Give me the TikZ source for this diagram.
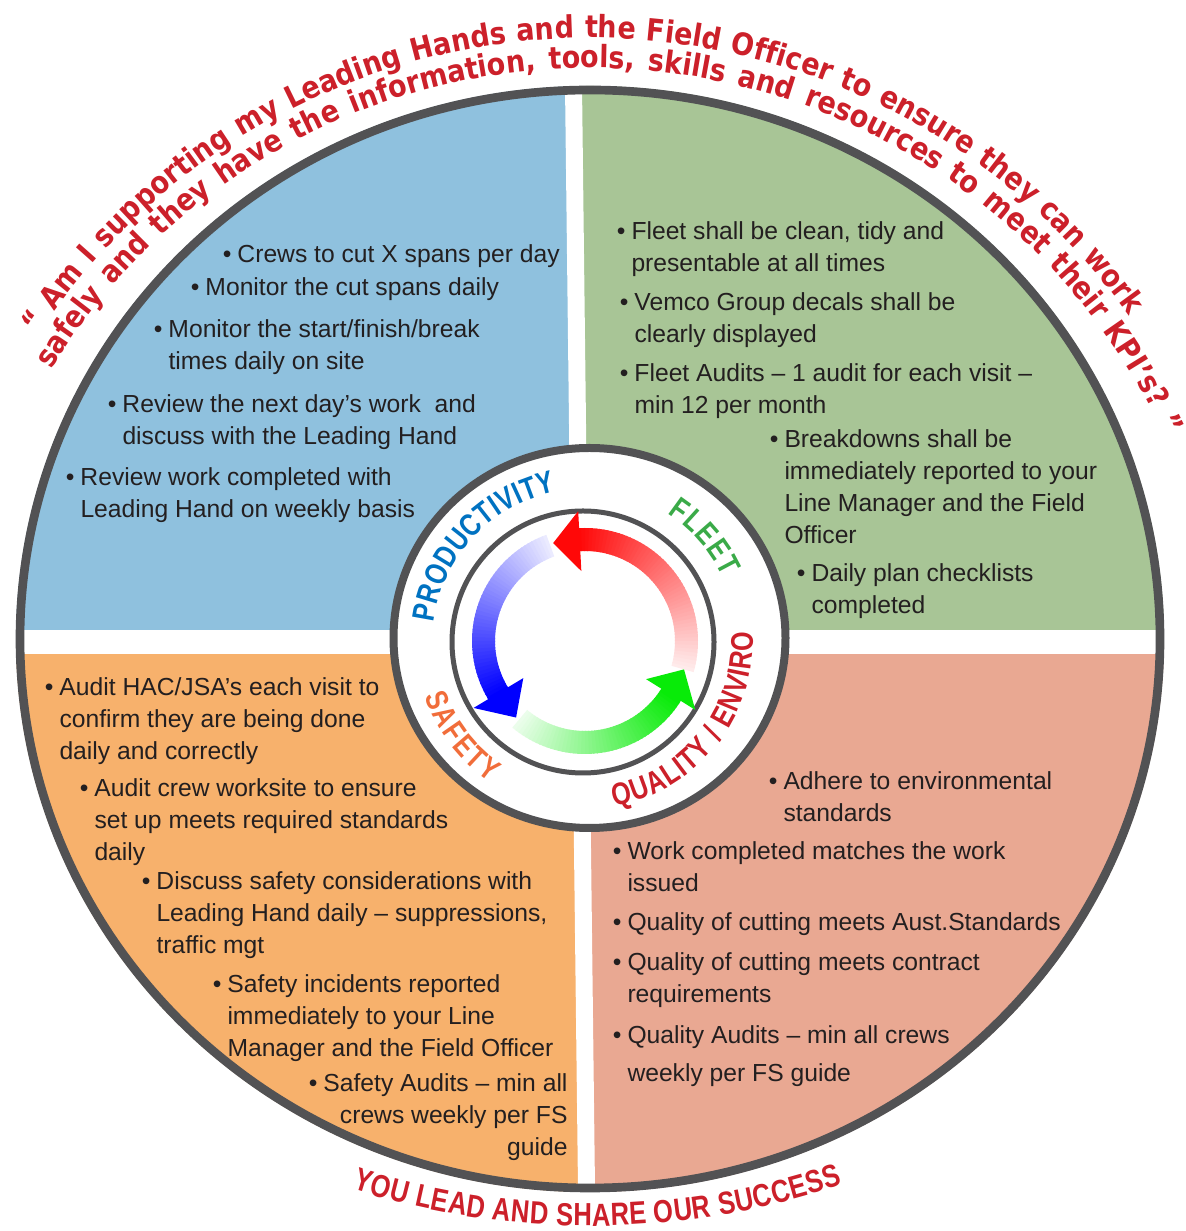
\documentclass[tikz,border=0pt]{standalone}
\usepackage{fontspec}
\setmainfont{Liberation Sans}
\newfontfamily\itemfont{Liberation Sans}
\newfontfamily\quotefont{DejaVu Sans}[FakeStretch=0.88]
\newfontfamily\labelfont{Liberation Sans}[FakeStretch=0.8]
\usetikzlibrary{decorations.text}

\definecolor{titlered}{RGB}{204,32,42}
\definecolor{ringgray}{RGB}{82,82,84}
\definecolor{txtgray}{RGB}{35,31,32}
\definecolor{prodfill}{RGB}{143,193,222}
\definecolor{fleetfill}{RGB}{168,197,150}
\definecolor{safetyfill}{RGB}{247,177,108}
\definecolor{qualfill}{RGB}{233,168,146}
\definecolor{prodblue}{RGB}{0,114,193}
\definecolor{fleetgreen}{RGB}{58,170,72}
\definecolor{safetyorange}{RGB}{241,109,58}
\definecolor{arrowred}{RGB}{255,8,8}
\definecolor{arrowblue}{RGB}{0,0,255}
\definecolor{arrowgreen}{RGB}{8,235,8}

\tikzset{every picture/.style={line width=0.75pt}}
\tikzset{
  bullettext/.style={anchor=base west, inner sep=0pt, align=left, text=txtgray,
    font=\itemfont\fontsize{18.5pt}{24pt}\selectfont},
  ringline/.style={draw=ringgray, line width=6.5pt},
}
\newcommand\bul{\llap{\textbullet\hspace{4.5pt}}}
\newcommand\titlestyle{\quotefont\bfseries\fontsize{23pt}{24pt}\selectfont}
\newcommand\labelstyle{\labelfont\bfseries\fontsize{23.5pt}{24pt}\selectfont}
\newcommand\footstyle{\labelfont\bfseries\fontsize{24pt}{24pt}\selectfont}

\begin{document}
\begin{tikzpicture}[x=0.75pt,y=0.75pt]
\useasboundingbox (0,0) rectangle (1185,1231);
\coordinate (O) at (590,592);

%Quadrants
\begin{scope}
\clip (O) ellipse [x radius=574, y radius=553];
\fill[prodfill] (0,592) -- (0,1231) -- (572.5,1231) -- (580,592) -- cycle;
\fill[fleetfill] (580,592) -- (572.5,1231) -- (1185,1231) -- (1185,592) -- cycle;
\fill[safetyfill] (0,0) -- (0,592) -- (580,592) -- (587,0) -- cycle;
\fill[qualfill] (587,0) -- (580,592) -- (1185,592) -- (1185,0) -- cycle;
\end{scope}
%White cross
\fill[white] (0,577) rectangle (1185,601);
\fill[white] (564,1231) -- (581,1231) -- (595.5,0) -- (578.5,0) -- cycle;
%Outer ring
\draw[ringline] (O) ellipse [x radius=570, y radius=549];

%Centre disc
\draw[ringline, fill=white, line width=6pt] (589.5,593) ellipse [x radius=196, y radius=190];
\draw[draw=ringgray, line width=3.75pt] (583,589) circle [radius=131];

%Cycle arrows
\begin{scope}[shift={(585,590)}]
\foreach \a in {-16,-14,...,92}{
  \pgfmathsetmacro\p{8+92*(\a+16)/108}
  \fill[arrowred!\p!white] (\a:90) arc[start angle=\a, end angle=\a+2.6, radius=90] -- ({\a+2.6}:113) arc[start angle=\a+2.6, end angle=\a, radius=113] -- cycle;
}
\fill[arrowred] (93:70) -- (108:103) -- (93:130) -- cycle;
\foreach \a in {110,112,...,210}{
  \pgfmathsetmacro\p{8+92*(\a-110)/100}
  \fill[arrowblue!\p!white] (\a:90) arc[start angle=\a, end angle=\a+2.6, radius=90] -- ({\a+2.6}:113) arc[start angle=\a+2.6, end angle=\a, radius=113] -- cycle;
}
\fill[arrowblue] (211:72) -- (228:103) -- (211:130) -- cycle;
\foreach \a in {230,232,...,326}{
  \pgfmathsetmacro\p{8+92*(\a-230)/96}
  \fill[arrowgreen!\p!white] (\a:90) arc[start angle=\a, end angle=\a+2.6, radius=90] -- ({\a+2.6}:113) arc[start angle=\a+2.6, end angle=\a, radius=113] -- cycle;
}
\fill[arrowgreen] (328:72) -- (344:103) -- (328:130) -- cycle;

%Ring labels
\path[decorate, decoration={text along path, text align={fit to path}, text color=prodblue,
  text={|\labelstyle|PRODUCTIVITY}}] (173:152) arc[start angle=173, end angle=101, radius=152];
\path[decorate, decoration={text along path, text align={fit to path}, text color=fleetgreen,
  text={|\labelstyle|FLEET}}] (57:152) arc[start angle=57, end angle=25, radius=152];
\path[decorate, decoration={text along path, text align={fit to path}, text color=safetyorange,
  text={|\labelstyle|SAFETY}}] (199:170) arc[start angle=199, end angle=236, radius=170];
\path[decorate, decoration={text along path, text align={fit to path}, text color=titlered,
  text={|\labelstyle|QUALITY / ENVIRO}}] (280:168) arc[start angle=280, end angle=363, radius=168];
\end{scope}

%Productivity
\node[bullettext] (crews) at (237,968) {\bul Crews to cut X spans per day};
\node[bullettext] (cutspans) at (205,935) {\bul Monitor the cut spans daily};
\node[bullettext] (breaktimes) at (168,861) {\bul Monitor the start/finish/break\\times daily on site};
\node[bullettext] (nextday) at (122,786) {\bul Review the next day’s work~ and\\discuss with the Leading Hand};
\node[bullettext] (weeklyreview) at (80,713) {\bul Review work completed with\\Leading Hand on weekly basis};

%Fleet
\node[bullettext] (clean) at (631,959) {\bul Fleet shall be clean, tidy and\\presentable at all times};
\node[bullettext] (decals) at (634,888) {\bul Vemco Group decals shall be\\clearly displayed};
\node[bullettext] (fleetaudit) at (634,817) {\bul Fleet Audits – 1 audit for each visit –\\min 12 per month};
\node[bullettext] (breakdowns) at (784,687) {\bul Breakdowns shall be\\immediately reported to your\\Line Manager and the Field\\Officer};
\node[bullettext] (checklists) at (811,617) {\bul Daily plan checklists\\completed};

%Safety
\node[bullettext] (hacjsa) at (59,471) {\bul Audit HAC/JSA’s each visit to\\confirm they are being done\\daily and correctly};
\node[bullettext] (worksite) at (94,370) {\bul Audit crew worksite to ensure\\set up meets required standards\\daily};
\node[bullettext] (considerations) at (156,277) {\bul Discuss safety considerations with\\Leading Hand daily – suppressions,\\traffic mgt};
\node[bullettext] (incidents) at (227,174) {\bul Safety incidents reported\\immediately to your Line\\Manager and the Field Officer};
\node[bullettext, anchor=base east, align=right] (safetyaudit) at (568,75) {\bul Safety Audits – min all\\crews weekly per FS\\guide};

%Quality / Enviro
\node[bullettext] (envstandards) at (783,409) {\bul Adhere to environmental\\standards};
\node[bullettext] (matches) at (627,339) {\bul Work completed matches the work\\issued};
\node[bullettext] (auststd) at (627,300) {\bul Quality of cutting meets Aust.Standards};
\node[bullettext] (contract) at (627,228) {\bul Quality of cutting meets contract\\requirements};
\node[bullettext] (qualaudit) at (627,149) {\bul Quality Audits – min all crews\\[5pt]weekly per FS guide};

%Question round the top
\begin{scope}[shift={(590,531)}]
\path[decorate, decoration={text along path, text align={fit to path stretching spaces}, text color=titlered,
  text={|\titlestyle|“ Am I supporting my Leading Hands and the Field Officer to ensure they can work}}]
  (146.5:662) arc[start angle=146.5, end angle=35.5, radius=662];
\path[decorate, decoration={text along path, text align={fit to path stretching spaces}, text color=titlered,
  text={|\titlestyle|safely and they have the information, tools, skills and resources to meet their KPI’s? ”}}]
  (148.5:632) arc[start angle=148.5, end angle=24.6, radius=632];
\end{scope}

%Footer
\begin{scope}[shift={(590,787)}]
\path[decorate, decoration={text along path, text align={fit to path}, text color=titlered,
  text={|\footstyle|YOU LEAD AND SHARE OUR SUCCESS}}]
  (252.3:782) arc[start angle=252.3, end angle=288.8, radius=782];
\end{scope}

\end{tikzpicture}
\end{document}
